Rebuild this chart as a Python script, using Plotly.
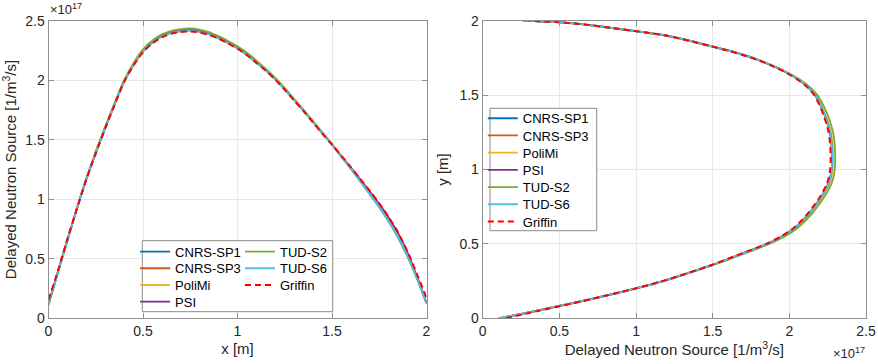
import plotly.graph_objects as go

# ---------------- data (values in units of 1e17 1/m^3/s) ----------------
X_POS = [0.00, 0.05, 0.10, 0.15, 0.20, 0.25, 0.30, 0.35, 0.40, 0.45,
         0.50, 0.55, 0.60, 0.65, 0.70, 0.75, 0.80, 0.85, 0.90, 0.95,
         1.00, 1.05, 1.10, 1.15, 1.20, 1.25, 1.30, 1.35, 1.40, 1.45,
         1.50, 1.55, 1.60, 1.65, 1.70, 1.75, 1.80, 1.85, 1.90, 1.95, 2.00]

CNRS_SP1_X = [0.12, 0.39, 0.66, 0.92, 1.17, 1.39, 1.60, 1.80, 1.99, 2.13, 2.245, 2.32, 2.37, 2.40, 2.415, 2.42, 2.41, 2.39, 2.355, 2.315, 2.27, 2.215, 2.15, 2.085, 2.01, 1.925, 1.835, 1.745, 1.65, 1.555, 1.46, 1.36, 1.26, 1.155, 1.05, 0.94, 0.82, 0.69, 0.53, 0.34, 0.13]
CNRS_SP3_X = [0.12, 0.39, 0.66, 0.92, 1.17, 1.39, 1.60, 1.80, 1.99, 2.13, 2.245, 2.32, 2.37, 2.40, 2.415, 2.42, 2.41, 2.39, 2.355, 2.315, 2.27, 2.215, 2.15, 2.085, 2.01, 1.925, 1.835, 1.745, 1.65, 1.555, 1.46, 1.36, 1.26, 1.155, 1.05, 0.94, 0.82, 0.69, 0.53, 0.34, 0.13]
POLIMI_X   = [0.12, 0.39, 0.66, 0.92, 1.17, 1.39, 1.60, 1.80, 1.99, 2.135, 2.25, 2.325, 2.375, 2.405, 2.42, 2.425, 2.415, 2.395, 2.36, 2.32, 2.275, 2.22, 2.155, 2.09, 2.015, 1.93, 1.84, 1.75, 1.655, 1.56, 1.465, 1.365, 1.265, 1.16, 1.055, 0.945, 0.825, 0.695, 0.535, 0.345, 0.13]
PSI_X      = [0.12, 0.39, 0.66, 0.92, 1.17, 1.39, 1.60, 1.80, 1.99, 2.13, 2.245, 2.32, 2.37, 2.40, 2.415, 2.42, 2.41, 2.39, 2.355, 2.315, 2.27, 2.215, 2.15, 2.085, 2.01, 1.925, 1.835, 1.745, 1.65, 1.555, 1.46, 1.36, 1.265, 1.165, 1.065, 0.96, 0.845, 0.715, 0.55, 0.35, 0.13]
TUD_S2_X   = [0.11, 0.38, 0.65, 0.92, 1.17, 1.40, 1.61, 1.81, 2.00, 2.145, 2.26, 2.335, 2.385, 2.415, 2.43, 2.435, 2.425, 2.405, 2.37, 2.33, 2.285, 2.23, 2.165, 2.095, 2.02, 1.935, 1.84, 1.75, 1.65, 1.555, 1.46, 1.355, 1.255, 1.15, 1.04, 0.93, 0.81, 0.675, 0.515, 0.33, 0.12]
TUD_S6_X   = [0.12, 0.39, 0.66, 0.92, 1.165, 1.385, 1.595, 1.795, 1.985, 2.125, 2.24, 2.315, 2.365, 2.395, 2.41, 2.415, 2.405, 2.385, 2.35, 2.31, 2.265, 2.21, 2.145, 2.08, 2.005, 1.92, 1.83, 1.74, 1.645, 1.55, 1.455, 1.355, 1.255, 1.15, 1.045, 0.935, 0.815, 0.685, 0.525, 0.335, 0.125]
GRIFFIN_X  = [0.155, 0.40, 0.665, 0.92, 1.165, 1.385, 1.595, 1.795, 1.985, 2.125, 2.235, 2.31, 2.36, 2.39, 2.405, 2.41, 2.40, 2.38, 2.35, 2.31, 2.265, 2.21, 2.145, 2.08, 2.005, 1.92, 1.83, 1.74, 1.645, 1.55, 1.46, 1.365, 1.27, 1.17, 1.07, 0.965, 0.85, 0.72, 0.56, 0.37, 0.175]

Y_POS = [0.00, 0.05, 0.10, 0.15, 0.20, 0.25, 0.30, 0.35, 0.40, 0.45,
         0.50, 0.55, 0.60, 0.65, 0.70, 0.75, 0.80, 0.85, 0.90, 0.95,
         1.00, 1.05, 1.10, 1.15, 1.20, 1.25, 1.30, 1.35, 1.40, 1.45,
         1.50, 1.55, 1.60, 1.65, 1.70, 1.75, 1.80, 1.85, 1.90, 1.95,
         1.975, 1.99, 2.00]

CNRS_SP1_Y = [0.11, 0.35, 0.58, 0.795, 0.995, 1.175, 1.33, 1.475, 1.605, 1.73, 1.855, 1.95, 2.025, 2.08, 2.125, 2.163, 2.198, 2.228, 2.253, 2.268, 2.276, 2.279, 2.279, 2.277, 2.273, 2.265, 2.252, 2.236, 2.217, 2.195, 2.168, 2.125, 2.065, 1.985, 1.885, 1.76, 1.60, 1.41, 1.20, 0.85, 0.66, 0.49, 0.265]
CNRS_SP3_Y = [0.11, 0.35, 0.58, 0.795, 0.995, 1.175, 1.33, 1.475, 1.605, 1.73, 1.855, 1.95, 2.025, 2.08, 2.125, 2.163, 2.198, 2.228, 2.253, 2.268, 2.276, 2.279, 2.279, 2.277, 2.273, 2.265, 2.252, 2.236, 2.217, 2.195, 2.168, 2.125, 2.065, 1.985, 1.885, 1.76, 1.60, 1.41, 1.20, 0.85, 0.66, 0.49, 0.265]
POLIMI_Y   = [0.11, 0.35, 0.58, 0.795, 0.995, 1.175, 1.33, 1.475, 1.605, 1.735, 1.86, 1.955, 2.03, 2.086, 2.131, 2.169, 2.204, 2.234, 2.259, 2.274, 2.282, 2.285, 2.285, 2.283, 2.279, 2.271, 2.258, 2.242, 2.222, 2.2, 2.172, 2.129, 2.068, 1.988, 1.887, 1.762, 1.60, 1.41, 1.20, 0.85, 0.66, 0.49, 0.265]
PSI_Y      = [0.11, 0.35, 0.58, 0.795, 0.995, 1.175, 1.33, 1.475, 1.605, 1.73, 1.855, 1.95, 2.025, 2.08, 2.125, 2.163, 2.198, 2.228, 2.253, 2.268, 2.276, 2.279, 2.279, 2.277, 2.273, 2.265, 2.252, 2.236, 2.217, 2.195, 2.168, 2.125, 2.065, 1.985, 1.885, 1.76, 1.60, 1.41, 1.20, 0.85, 0.66, 0.49, 0.265]
TUD_S2_Y   = [0.10, 0.345, 0.575, 0.795, 0.995, 1.18, 1.335, 1.48, 1.615, 1.745, 1.87, 1.97, 2.045, 2.10, 2.145, 2.183, 2.218, 2.248, 2.273, 2.288, 2.296, 2.299, 2.299, 2.297, 2.293, 2.285, 2.272, 2.256, 2.236, 2.212, 2.183, 2.138, 2.075, 1.99, 1.887, 1.76, 1.598, 1.405, 1.195, 0.845, 0.655, 0.485, 0.26]
TUD_S6_Y   = [0.11, 0.35, 0.58, 0.795, 0.995, 1.175, 1.33, 1.475, 1.605, 1.73, 1.855, 1.95, 2.025, 2.08, 2.125, 2.163, 2.198, 2.228, 2.253, 2.268, 2.276, 2.279, 2.279, 2.277, 2.273, 2.265, 2.252, 2.236, 2.217, 2.195, 2.168, 2.125, 2.065, 1.985, 1.885, 1.76, 1.60, 1.41, 1.20, 0.85, 0.66, 0.49, 0.265]
GRIFFIN_Y  = [0.15, 0.365, 0.585, 0.795, 0.995, 1.175, 1.325, 1.47, 1.60, 1.725, 1.85, 1.945, 2.02, 2.073, 2.117, 2.155, 2.19, 2.219, 2.243, 2.258, 2.266, 2.269, 2.269, 2.267, 2.263, 2.256, 2.244, 2.228, 2.21, 2.188, 2.162, 2.12, 2.06, 1.98, 1.88, 1.755, 1.595, 1.405, 1.195, 0.85, 0.66, 0.49, 0.30]

SERIES_NAMES = ["CNRS-SP1", "CNRS-SP3", "PoliMi", "PSI", "TUD-S2", "TUD-S6", "Griffin"]
LEFT_SERIES = [CNRS_SP1_X, CNRS_SP3_X, POLIMI_X, PSI_X, TUD_S2_X, TUD_S6_X, GRIFFIN_X]
RIGHT_SERIES = [CNRS_SP1_Y, CNRS_SP3_Y, POLIMI_Y, PSI_Y, TUD_S2_Y, TUD_S6_Y, GRIFFIN_Y]

X_TICKS_LEFT = [0, 0.5, 1, 1.5, 2]
Y_TICKS_LEFT = [0, 0.5, 1, 1.5, 2, 2.5]
X_TICKS_RIGHT = [0, 0.5, 1, 1.5, 2, 2.5]
Y_TICKS_RIGHT = [0, 0.5, 1, 1.5, 2]

# ---------------- style ----------------
COLORS = ["#0072BD", "#D95319", "#EDB120", "#7E2F8E", "#77AC30", "#4DBEEE", "#FF0000"]
W, H = 878, 364
FONT = "Liberation Sans, Arial, Helvetica, sans-serif"
TXT = "#262626"
AX = "#8f8f8f"
GRID = "#e8e8e8"


def fx(p):
    return p / W


def fy(p):
    return 1 - p / H


fig = go.Figure()

# legend slots: (line start x, row centre y) in pixels
left_slots = [(143.8, 251.7), (143.8, 268.3), (143.8, 285.0), (143.8, 301.7),
              (248.7, 251.7), (248.7, 268.3), (248.7, 285.0)]
right_slots = [(491.5, 118.3 + i * 17.2) for i in range(7)]
LINE_OFFSET = 8.7

layout_legends = {}
for i, name in enumerate(SERIES_NAMES):
    dash = "6px,4px" if name == "Griffin" else "solid"
    width = 2 if name == "Griffin" else 1.8
    lkey = "legend" if i == 0 else f"legend{i + 1}"
    rkey = f"legend{i + 8}"
    fig.add_trace(go.Scatter(
        x=X_POS, y=LEFT_SERIES[i], mode="lines", name=name,
        line=dict(color=COLORS[i], width=width, dash=dash, shape="spline", smoothing=0.8),
        xaxis="x", yaxis="y", legend=lkey, showlegend=True))
    fig.add_trace(go.Scatter(
        x=RIGHT_SERIES[i], y=Y_POS, mode="lines", name=name,
        line=dict(color=COLORS[i], width=width, dash=dash, shape="spline", smoothing=0.8),
        xaxis="x2", yaxis="y2", legend=rkey, showlegend=True))
    for key, (sx, sy) in ((lkey, left_slots[i]), (rkey, right_slots[i])):
        layout_legends[key] = dict(
            x=fx(sx - LINE_OFFSET), y=fy(sy), xanchor="left", yanchor="middle",
            bgcolor="rgba(0,0,0,0)", borderwidth=0,
            font=dict(family=FONT, size=13, color="#000000"),
            itemclick=False, itemdoubleclick=False)

axis_common = dict(
    showline=True, linecolor=AX, linewidth=1, mirror="ticks",
    ticks="inside", ticklen=5, tickcolor=AX, tickwidth=1,
    showgrid=True, gridcolor=GRID, gridwidth=1, zeroline=False,
    automargin=False,
    tickfont=dict(family=FONT, size=14, color=TXT),
    title_font=dict(family=FONT, size=15, color=TXT),
)

dom_y = [fy(318.3), fy(20.7)]
fig.update_layout(
    width=W, height=H, margin=dict(l=0, r=0, t=0, b=0, autoexpand=False),
    paper_bgcolor="white", plot_bgcolor="white",
    xaxis=dict(domain=[fx(48.5), fx(426.5)], range=[0, 2], tickvals=X_TICKS_LEFT,
               anchor="y", title=dict(text="x [m]", standoff=5), **axis_common),
    yaxis=dict(domain=dom_y, range=[0, 2.5], tickvals=Y_TICKS_LEFT, anchor="x",
               title=dict(text="Delayed Neutron Source [1/m<sup>3</sup>/s]", standoff=7),
               **axis_common),
    xaxis2=dict(domain=[fx(482.7), fx(866)], range=[0, 2.5], tickvals=X_TICKS_RIGHT,
                anchor="y2",
                title=dict(text="Delayed Neutron Source [1/m<sup>3</sup>/s]", standoff=5),
                **axis_common),
    yaxis2=dict(domain=dom_y, range=[0, 2], tickvals=Y_TICKS_RIGHT, anchor="x2",
                title=dict(text="y [m]", standoff=7), **axis_common),
    shapes=[
        dict(type="rect", xref="paper", yref="paper", layer="above",
             x0=fx(142.3), x1=fx(332.7), y0=fy(311.7), y1=fy(240.7),
             fillcolor="white", line=dict(color="#8a8a8a", width=1)),
        dict(type="rect", xref="paper", yref="paper", layer="above",
             x0=fx(490), x1=fx(596.7), y0=fy(230.7), y1=fy(108.3),
             fillcolor="white", line=dict(color="#8a8a8a", width=1)),
    ],
    annotations=[
        dict(text="×10<sup>17</sup>", xref="paper", yref="paper",
             x=fx(48), y=fy(19), xanchor="left", yanchor="bottom", showarrow=False,
             font=dict(family=FONT, size=13, color=TXT)),
        dict(text="×10<sup>17</sup>", xref="paper", yref="paper",
             x=fx(867), y=fy(363), xanchor="right", yanchor="bottom", showarrow=False,
             font=dict(family=FONT, size=13, color=TXT)),
    ],
    showlegend=True,
    **layout_legends,
)

fig.write_html("out.html", config={"displayModeBar": False},
               post_script="document.body.style.margin='0';")
